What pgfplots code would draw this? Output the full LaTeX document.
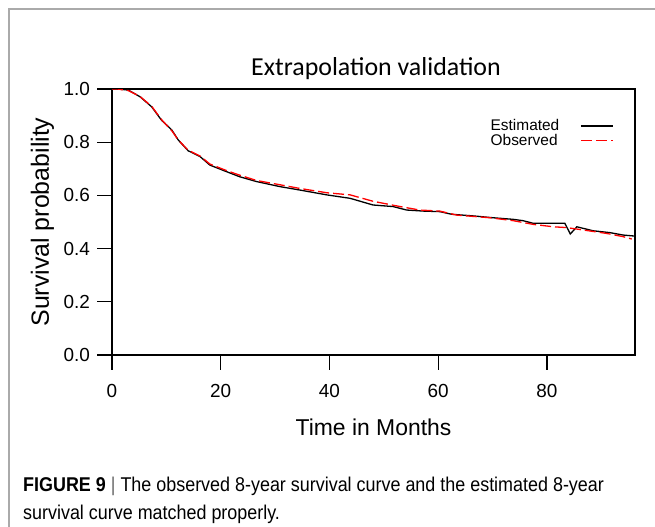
\documentclass[border=0pt]{standalone}
\usepackage{fontspec}
\setmainfont{Liberation Sans}
\newfontfamily\titlefont{Carlito}
\newfontfamily\capfont[FakeStretch=0.9]{Liberation Sans}
\usepackage{pgfplots}
\pgfplotsset{compat=1.18}
\definecolor{framegray}{RGB}{170,170,170}
\begin{document}
\begin{tikzpicture}
\path[use as bounding box] (0bp,0bp) rectangle (655bp,-527bp);
\draw[framegray, line width=1.2bp] (9bp,-527bp) -- (9bp,-9bp) -- (655bp,-9bp);
\begin{axis}[
  at={(112bp,-355bp)}, anchor=south west,
  scale only axis, width=523bp, height=266bp,
  xmin=0, xmax=96.2, ymin=0, ymax=1,
  xtick={0,20,40,60,80}, ytick={0,0.2,0.4,0.6,0.8,1.0},
  /pgf/number format/assume math mode=true,
  yticklabel style={/pgf/number format/fixed, /pgf/number format/fixed zerofill, /pgf/number format/precision=1, xshift=-4bp},
  xticklabel style={yshift=-11bp},
  xtick pos=bottom, ytick pos=left,
  tick align=outside, major tick length=14.5bp,
  tick style={black, line width=1.2bp},
  axis line style={line width=1.4bp},
  ticklabel style={font=\fontsize{19}{21}\selectfont},
  title={Extrapolation validation},
  title style={at={(axis description cs:0.5048,1.0564)}, anchor=base, yshift=-7bp, font=\titlefont\fontsize{26}{30}\selectfont},
  xlabel={Time in Months},
  xlabel style={at={(axis description cs:0.5,-0.3008)}, anchor=base, font=\fontsize{23}{26}\selectfont},
  ylabel={Survival probability},
  ylabel style={at={(axis description cs:-0.1205,0.5)}, anchor=base, font=\fontsize{25}{28}\selectfont},
  legend plot pos=right,
  legend cell align=left,
  legend image code/.code={\draw[#1] (0bp,0bp) -- (32bp,0bp);},
  legend style={draw=none, fill=none, at={(axis cs:92.3,0.893)}, anchor=north east, font=\fontsize{15.5}{16}\selectfont, row sep=-2bp, column sep=19bp, inner sep=0pt},
]
\addplot[black, line width=1.3bp] coordinates {
(0,1.0) (1,1.0) (3,0.996) (5.15,0.971) (7.3,0.933) (9.1,0.883) (11,0.846) (12.2,0.808) (14,0.768) (16.2,0.746) (18,0.714) (21.1,0.689) (23.5,0.670) (26.6,0.652) (30.9,0.633) (34.6,0.620) (39.5,0.602) (43.8,0.589) (48,0.564) (51.7,0.558) (54.2,0.545) (57.3,0.541) (60.3,0.539) (62.5,0.529) (66.4,0.523) (70.1,0.516) (73.8,0.510) (75.6,0.505) (77.5,0.495) (83.3,0.495) (84.3,0.455) (85.5,0.482) (88.5,0.467) (91.6,0.460) (94,0.451) (96.2,0.447)
};
\addlegendentry{Estimated}
\addplot[red, line width=1.3bp, dash pattern=on 11bp off 4bp] coordinates {
(0,1.0) (1,1.0) (3,0.994) (5.15,0.972) (7.3,0.935) (9.1,0.885) (11,0.843) (12.2,0.808) (14,0.770) (16.2,0.748) (18,0.718) (21.1,0.693) (23.5,0.676) (26.6,0.656) (30.9,0.640) (34.6,0.626) (39.5,0.610) (43.8,0.602) (48,0.578) (53,0.558) (56.6,0.545) (60.3,0.541) (63.4,0.526) (69.5,0.516) (73.8,0.505) (77.5,0.491) (81.2,0.482) (83.6,0.479) (86,0.472) (91,0.457) (94,0.445) (95.6,0.436)
};
\addlegendentry{Observed}
\end{axis}
\node[anchor=base west, inner sep=0pt, font=\capfont\fontsize{20}{24}\selectfont] at (23bp,-491bp) {\textbf{FIGURE 9} {\color{black!60}|} The observed 8-year survival curve and the estimated 8-year};
\node[anchor=base west, inner sep=0pt, font=\capfont\fontsize{20}{24}\selectfont] at (23bp,-519bp) {survival curve matched properly.};
\end{tikzpicture}
\end{document}
